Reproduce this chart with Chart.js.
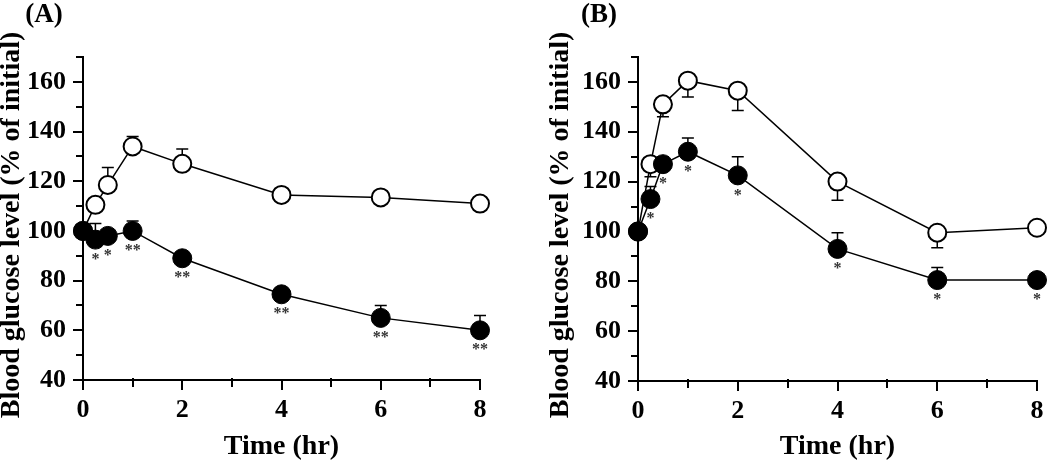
<!DOCTYPE html>
<html>
<head>
<meta charset="utf-8">
<script src="https://cdn.jsdelivr.net/npm/chart.js@4.4.1/dist/chart.umd.min.js"></script>
<style>
  html, body { margin: 0; padding: 0; background: #fff; }
  .panel { position: absolute; top: 0; width: 525px; height: 462px; }
  #panelA { left: 0; }
  #panelB { left: 525px; }
</style>
</head>
<body>
<div class="panel" id="panelA"><canvas id="chartA" width="525" height="462"></canvas></div>
<div class="panel" id="panelB"><canvas id="chartB" width="525" height="462"></canvas></div>
<script>
// sampling times (hr)
const times = [0, 0.25, 0.5, 1, 2, 4, 6, 8];

// panel A - open circles (control) and filled circles (treated), SEM
const aOpen = [100, 110.5, 118.5, 134, 127, 114.5, 113.5, 111];
const aOpenErr = [0, 0, 7, 4, 6, 1, 1, 1];
const aFilled = [100, 96.5, 98, 100, 89, 74.5, 65, 60];
const aFilledErr = [0, 6.5, 1, 4, 1, 1, 5, 6];
const aStars = ["", "*", "*", "**", "**", "**", "**", "**"];

// panel B
const bOpen = [100, 127, 151, 160.5, 156.5, 120, 99.5, 101.5];
const bOpenErr = [0, 5, 5, 6.5, 8, 7.5, 6, 1];
const bFilled = [100, 113, 127, 132, 122.5, 93, 80.5, 80.5];
const bFilledErr = [0, 5, 3, 5.5, 7.5, 6.5, 5, 1];
const bStars = ["", "*", "*", "*", "*", "*", "*", "*"];

// axis ticks
const yTicks = [40, 60, 80, 100, 120, 140, 160];
const yMinor = [50, 70, 90, 110, 130, 150, 170];
const xTicks = [0, 2, 4, 6, 8];
const xMinor = [1, 3, 5, 7];

const yTitle = "Blood glucose level (% of initial)";
const xTitle = "Time (hr)";
const serif = "'Liberation Serif', 'Times New Roman', serif";

function points(ys) {
    return times.map((t, i) => ({ x: t, y: ys[i] }));
}

const decor = {
    id: "decor",
    beforeDatasetsDraw(chart) {
        const ctx = chart.ctx;
        const xs = chart.scales.x;
        const ys = chart.scales.y;
        const area = chart.chartArea;
        ctx.save();
        ctx.strokeStyle = "#000";
        ctx.lineWidth = 2;
        // minor ticks
        yMinor.forEach(v => {
            const py = Math.round(ys.getPixelForValue(v));
            ctx.beginPath();
            ctx.moveTo(area.left, py);
            ctx.lineTo(area.left - 7, py);
            ctx.stroke();
        });
        xMinor.forEach(v => {
            const px = Math.round(xs.getPixelForValue(v));
            ctx.beginPath();
            ctx.moveTo(px, area.bottom - 2);
            ctx.lineTo(px, area.bottom + 7);
            ctx.stroke();
        });
        // error bars, under the markers
        ctx.lineWidth = 1.5;
        chart.data.datasets.forEach((ds, i) => {
            const meta = chart.getDatasetMeta(i);
            ds.err.forEach((e, j) => {
                if (!e) return;
                const pt = meta.data[j];
                const yEnd = ys.getPixelForValue(ds.data[j].y + ds.errDir * e);
                ctx.beginPath();
                ctx.moveTo(pt.x, pt.y);
                ctx.lineTo(pt.x, yEnd);
                ctx.moveTo(pt.x - 6, yEnd);
                ctx.lineTo(pt.x + 6, yEnd);
                ctx.stroke();
            });
        });
        ctx.restore();
    },
    afterDatasetsDraw(chart) {
        const ctx = chart.ctx;
        ctx.save();
        ctx.fillStyle = "#333";
        ctx.font = "bold 16px " + serif;
        ctx.textAlign = "center";
        ctx.textBaseline = "middle";
        chart.data.datasets.forEach((ds, i) => {
            if (!ds.stars) return;
            const meta = chart.getDatasetMeta(i);
            ds.stars.forEach((s, j) => {
                if (!s) return;
                const pt = meta.data[j];
                ctx.fillText(s, pt.x, pt.y + 20);
            });
        });
        ctx.restore();
    },
    afterDraw(chart) {
        const ctx = chart.ctx;
        const o = chart.options.plugins.decor;
        ctx.save();
        ctx.fillStyle = "#000";
        ctx.textAlign = "center";
        ctx.textBaseline = "middle";
        ctx.font = "bold 27px " + serif;
        ctx.fillText(o.letter, o.letterX, 15);
        ctx.translate(o.titleX, 225);
        ctx.rotate(-Math.PI / 2);
        ctx.font = "bold 28px " + serif;
        ctx.fillText(yTitle, 0, 0);
        ctx.restore();
    }
};

function makeChart(id, opt) {
    const ctx = document.getElementById(id).getContext("2d");
    return new Chart(ctx, {
        type: "scatter",
        data: {
            datasets: [
                {
                    data: points(opt.filled),
                    err: opt.filledErr,
                    errDir: 1,
                    stars: opt.stars,
                    showLine: true,
                    borderColor: "#000",
                    borderWidth: 1.5,
                    pointRadius: 9.5,
                    pointBackgroundColor: "#000",
                    pointBorderColor: "#000",
                    pointBorderWidth: 1,
                    clip: false
                },
                {
                    data: points(opt.open),
                    err: opt.openErr,
                    errDir: opt.openDir,
                    showLine: true,
                    borderColor: "#000",
                    borderWidth: 1.5,
                    pointRadius: 9,
                    pointBackgroundColor: "#fff",
                    pointBorderColor: "#000",
                    pointBorderWidth: 2,
                    clip: false
                }
            ]
        },
        options: {
            responsive: false,
            animation: false,
            events: [],
            layout: {
                padding: { left: opt.padLeft, right: opt.padRight, top: opt.top, bottom: 0 }
            },
            plugins: {
                legend: { display: false },
                tooltip: { enabled: false },
                decor: { letter: opt.letter, letterX: opt.letterX, titleX: opt.titleX }
            },
            scales: {
                x: {
                    type: "linear",
                    min: 0,
                    max: 8,
                    afterBuildTicks: s => { s.ticks = xTicks.map(v => ({ value: v })); },
                    afterFit: s => { s.height = 462 - opt.bottom; },
                    border: { display: true, color: "#000", width: 2 },
                    grid: { drawOnChartArea: false, drawTicks: true, tickLength: 10, color: "#000", lineWidth: 2 },
                    ticks: { color: "#000", padding: 5, font: { family: serif, size: 26, weight: "bold" } },
                    title: {
                        display: true,
                        text: xTitle,
                        color: "#000",
                        font: { family: serif, size: 28, weight: "bold", lineHeight: 1 },
                        padding: { top: 0, bottom: 1 }
                    }
                },
                y: {
                    type: "linear",
                    min: 40,
                    max: 170,
                    afterBuildTicks: s => { s.ticks = yTicks.map(v => ({ value: v })); },
                    afterFit: s => { s.width = opt.axisX - opt.padLeft; },
                    border: { display: true, color: "#000", width: 2 },
                    grid: { drawOnChartArea: false, drawTicks: true, tickLength: 10, color: "#000", lineWidth: 2 },
                    ticks: { color: "#000", padding: 7, font: { family: serif, size: 26, weight: "bold" } }
                }
            }
        },
        plugins: [decor]
    });
}

makeChart("chartA", {
    letter: "(A)", letterX: 44, titleX: 12,
    open: aOpen, openErr: aOpenErr, openDir: 1,
    filled: aFilled, filledErr: aFilledErr, stars: aStars,
    padLeft: 0, axisX: 83, padRight: 45, top: 57, bottom: 380
});

makeChart("chartB", {
    letter: "(B)", letterX: 74, titleX: 36,
    open: bOpen, openErr: bOpenErr, openDir: -1,
    filled: bFilled, filledErr: bFilledErr, stars: bStars,
    padLeft: 0, axisX: 113, padRight: 13, top: 57, bottom: 381
});
</script>
</body>
</html>
